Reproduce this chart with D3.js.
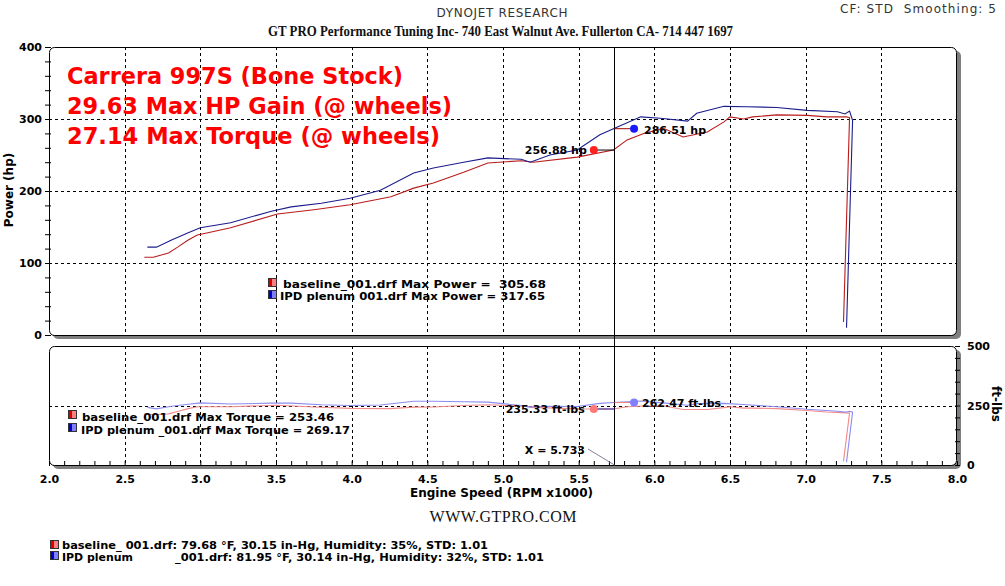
<!DOCTYPE html>
<html>
<head>
<meta charset="utf-8">
<title>Dyno</title>
<script src="https://d3js.org/d3.v7.min.js"></script>
<style>
body { margin: 0; background: #fff; }
text { font-family: "DejaVu Sans", Verdana, sans-serif; }
.serif { font-family: "Liberation Serif", "Times New Roman", serif; }
</style>
</head>
<body>
<script>

// IPD plenum run (rpm x1000, hp, ft-lbs)
var ipdRpm = [2.65, 2.71, 2.81, 2.92, 3.00, 3.20, 3.47, 3.60, 3.80, 3.99, 4.19, 4.41, 4.54, 4.74, 4.90, 5.12, 5.18, 5.31, 5.49, 5.64, 5.73, 5.91, 6.04, 6.22, 6.28, 6.46, 6.61, 6.81, 7.01, 7.21, 7.26, 7.29, 7.31, 7.27];
var ipdHp = [122, 122, 132, 142, 149, 156, 172, 178, 183, 190, 201, 225, 232, 240, 246, 244, 240, 250, 257, 278, 286.5, 303, 301, 297, 308, 317.6, 317, 316, 312, 310, 307, 311, 298, 10];
var ipdTq = [242, 236, 247, 255, 261, 256, 260, 260, 253, 250, 252, 268, 268, 266, 264, 250, 243, 247, 246, 259, 262.5, 269, 262, 251, 258, 259, 253, 245, 234, 226, 222, 226, 222, 12];

// baseline run
var baseRpm = [2.63, 2.69, 2.79, 2.85, 2.92, 2.98, 3.05, 3.20, 3.51, 3.75, 3.99, 4.26, 4.41, 4.54, 4.74, 4.90, 5.12, 5.20, 5.49, 5.73, 5.82, 5.93, 6.06, 6.19, 6.35, 6.46, 6.50, 6.59, 6.65, 6.81, 7.01, 7.14, 7.27, 7.29, 7.25];
var baseHp = [108, 108, 114, 122, 132, 139, 142, 149, 168, 174, 181, 192, 204, 211, 226, 239, 242, 240, 247, 256.9, 271, 280, 287, 275, 282, 296, 303, 300, 303, 305.7, 305, 303, 303, 302, 18];
var baseTq = [216, 211, 215, 225, 237, 245, 245, 245, 251, 244, 238, 237, 243, 244, 250, 253, 248, 242, 236, 235.3, 245, 248, 249, 233, 233, 241, 245, 239, 239, 237, 229, 223, 219, 218, 15];

var cursorRpm = 5.733;
var hpMarks = [256.88, 286.51];
var tqMarks = [235.33, 262.47];

var hpTicks = [0, 100, 200, 300, 400];
var tqTicks = [0, 250, 500];
var rpmTicks = [2.0, 2.5, 3.0, 3.5, 4.0, 4.5, 5.0, 5.5, 6.0, 6.5, 7.0, 7.5, 8.0];

var W = 1005, H = 586;
var svg = d3.select("body").append("svg")
	.attr("width", W)
	.attr("height", H);

var x = d3.scaleLinear().domain([2, 8]).range([49, 957]);
var yHp = d3.scaleLinear().domain([0, 400]).range([335, 47]);
var yTq = d3.scaleLinear().domain([0, 500]).range([465, 346]);

// header
svg.append("text").attr("x", 502).attr("y", 17).attr("text-anchor", "middle")
	.attr("font-size", 12).attr("fill", "#333").attr("textLength", 131)
	.text("DYNOJET RESEARCH");
svg.append("text").attr("x", 840).attr("y", 13)
	.attr("font-size", 12).attr("fill", "#333").attr("textLength", 156)
	.attr("xml:space", "preserve")
	.text("CF: STD  Smoothing: 5");
svg.append("text").attr("class", "serif").attr("x", 268).attr("y", 36)
	.attr("font-size", 14).attr("font-weight", "bold").attr("fill", "#111")
	.attr("textLength", 465).attr("lengthAdjust", "spacingAndGlyphs")
	.text("GT PRO Performance Tuning Inc- 740 East Walnut Ave. Fullerton CA- 714 447 1697");

// panels
function panel(y0, y1) {
	svg.append("rect").attr("x", 53).attr("y", y0 + 4).attr("width", 908).attr("height", y1 - y0)
		.attr("rx", 5).attr("fill", "#7f7f7f");
	svg.append("rect").attr("x", 49).attr("y", y0).attr("width", 908).attr("height", y1 - y0)
		.attr("rx", 5).attr("fill", "#fff");
}
panel(47, 335);
panel(346, 465);

// grid
var grid = svg.append("g").attr("stroke", "#000").attr("stroke-dasharray", "3,3").attr("stroke-width", 1);
rpmTicks.slice(1, -1).forEach(function(r) {
	var px = Math.round(x(r)) + 0.5;
	grid.append("line").attr("x1", px).attr("x2", px).attr("y1", 47).attr("y2", 335);
	grid.append("line").attr("x1", px).attr("x2", px).attr("y1", 346).attr("y2", 465);
});
[100, 200, 300].forEach(function(v) {
	var py = Math.round(yHp(v)) + 0.5;
	grid.append("line").attr("x1", 49).attr("x2", 957).attr("y1", py).attr("y2", py);
});
grid.append("line").attr("x1", 49).attr("x2", 957)
	.attr("y1", Math.round(yTq(250)) + 0.5).attr("y2", Math.round(yTq(250)) + 0.5);

// curves
function curve(rpm, vals, yS, color) {
	var pts = rpm.map(function(r, i) { return [r, vals[i]]; });
	svg.append("path").datum(pts)
		.attr("fill", "none").attr("stroke", color).attr("stroke-width", 1.1)
		.attr("d", d3.line().x(function(d) { return x(d[0]); }).y(function(d) { return yS(d[1]); }));
}
curve(baseRpm, baseTq, yTq, "#f28a8a");
curve(ipdRpm, ipdTq, yTq, "#8c8cf0");
curve(baseRpm, baseHp, yHp, "#b81c1c");
curve(ipdRpm, ipdHp, yHp, "#1c1c8c");

// panel borders
svg.append("rect").attr("x", 49.5).attr("y", 47.5).attr("width", 907).attr("height", 288)
	.attr("rx", 5).attr("fill", "none").attr("stroke", "#000");
svg.append("rect").attr("x", 49.5).attr("y", 346.5).attr("width", 907).attr("height", 119)
	.attr("rx", 5).attr("fill", "none").attr("stroke", "#000");

// cursor
var cx = Math.round(x(cursorRpm)) + 0.5;
svg.append("line").attr("x1", cx).attr("x2", cx).attr("y1", 47).attr("y2", 465)
	.attr("stroke", "#000");

// axes
var axHp = svg.append("g").attr("transform", "translate(51,0)")
	.call(d3.axisLeft(yHp).tickValues(d3.range(0, 401, 20)).tickSize(6).tickPadding(3)
		.tickFormat(function(d) { return hpTicks.indexOf(d) >= 0 ? d : ""; }));
var axTq = svg.append("g").attr("transform", "translate(955,0)")
	.call(d3.axisRight(yTq).tickValues(d3.range(0, 501, 50)).tickSize(5).tickPadding(7)
		.tickFormat(function(d) { return tqTicks.indexOf(d) >= 0 ? d : ""; }));
var axRpm = svg.append("g").attr("transform", "translate(0,465)")
	.call(d3.axisBottom(x).tickValues(rpmTicks).tickSize(0).tickPadding(10)
		.tickFormat(d3.format(".1f")));
var axMinor = svg.append("g").attr("transform", "translate(0,466)")
	.call(d3.axisBottom(x).tickValues(d3.range(20, 81).map(function(d) { return d / 10; }))
		.tickSize(-5).tickFormat(""));
[axHp, axTq, axRpm, axMinor].forEach(function(g) {
	g.select(".domain").remove();
	g.selectAll("text").attr("font-family", "DejaVu Sans, Verdana, sans-serif")
		.attr("font-size", 11).attr("font-weight", "bold").attr("fill", "#000");
	g.selectAll("line").attr("stroke", "#000");
});

// axis titles
svg.append("text").attr("transform", "translate(13,190) rotate(-90)")
	.attr("text-anchor", "middle").attr("font-size", 12).attr("font-weight", "bold")
	.text("Power (hp)");
svg.append("text").attr("transform", "translate(992,404) rotate(90)")
	.attr("text-anchor", "middle").attr("font-size", 12).attr("font-weight", "bold")
	.text("ft-lbs");
svg.append("text").attr("x", 410).attr("y", 497)
	.attr("font-size", 12).attr("font-weight", "bold").attr("textLength", 183)
	.text("Engine Speed (RPM x1000)");

// title block
var titles = ["Carrera 997S (Bone Stock)", "29.63 Max HP Gain (@ wheels)", "27.14 Max Torque (@ wheels)"];
var titleW = [336, 385, 373];
titles.forEach(function(t, i) {
	svg.append("text").attr("x", 67).attr("y", 84 + i * 30)
		.attr("font-size", 23).attr("font-weight", "bold").attr("fill", "#ff0000")
		.attr("textLength", titleW[i]).attr("lengthAdjust", "spacingAndGlyphs")
		.text(t);
});

// legend boxes
function swatch(px, py, dark, light) {
	svg.append("rect").attr("x", px).attr("y", py).attr("width", 4).attr("height", 9).attr("fill", dark);
	svg.append("rect").attr("x", px + 4).attr("y", py).attr("width", 4).attr("height", 9).attr("fill", light);
	svg.append("rect").attr("x", px + 0.5).attr("y", py + 0.5).attr("width", 8).attr("height", 8)
		.attr("fill", "none").attr("stroke", "#333");
}
function label(px, py, str, w) {
	svg.append("text").attr("x", px).attr("y", py).attr("font-size", 11).attr("font-weight", "bold")
		.attr("xml:space", "preserve").attr("textLength", w).attr("lengthAdjust", "spacingAndGlyphs")
		.text(str);
}
swatch(268, 278, "#e00000", "#ff8080");
swatch(268, 290, "#0000d0", "#8080ff");
label(283, 288, "baseline_001.drf Max Power =  305.68", 263);
label(280, 300, "IPD plenum 001.drf Max Power = 317.65", 265);

swatch(68, 410, "#e00000", "#ff8080");
swatch(68, 423, "#0000d0", "#8080ff");
label(82, 421, "baseline_001.drf Max Torque = 253.46", 252);
label(81, 434, "IPD plenum _001.drf Max Torque = 269.17", 269);

// cursor annotations, power
var rx = x(cursorRpm - 0.133), bx = x(cursorRpm + 0.133);
svg.append("line").attr("x1", rx).attr("x2", cx).attr("y1", yHp(hpMarks[0])).attr("y2", yHp(hpMarks[0])).attr("stroke", "#000");
svg.append("line").attr("x1", cx).attr("x2", bx).attr("y1", yHp(hpMarks[1])).attr("y2", yHp(hpMarks[1])).attr("stroke", "#a00000");
svg.append("circle").attr("cx", rx).attr("cy", yHp(hpMarks[0])).attr("r", 4).attr("fill", "#ff2020");
svg.append("circle").attr("cx", bx).attr("cy", yHp(hpMarks[1])).attr("r", 4).attr("fill", "#1a1aff");
svg.append("text").attr("x", rx - 7).attr("y", yHp(hpMarks[0]) + 4).attr("text-anchor", "end")
	.attr("font-size", 11).attr("font-weight", "bold").text(hpMarks[0].toFixed(2) + " hp");
svg.append("text").attr("x", bx + 10).attr("y", yHp(hpMarks[1]) + 5)
	.attr("font-size", 11).attr("font-weight", "bold").text(hpMarks[1].toFixed(2) + " hp");

// cursor annotations, torque
svg.append("line").attr("x1", rx).attr("x2", cx).attr("y1", yTq(tqMarks[0])).attr("y2", yTq(tqMarks[0])).attr("stroke", "#2020a0");
svg.append("line").attr("x1", cx).attr("x2", bx).attr("y1", yTq(tqMarks[1])).attr("y2", yTq(tqMarks[1])).attr("stroke", "#f08080");
svg.append("circle").attr("cx", rx).attr("cy", yTq(tqMarks[0])).attr("r", 4).attr("fill", "#ff7878");
svg.append("circle").attr("cx", bx).attr("cy", yTq(tqMarks[1])).attr("r", 4).attr("fill", "#8080ff");
svg.append("text").attr("x", rx - 9).attr("y", yTq(tqMarks[0]) + 4).attr("text-anchor", "end")
	.attr("font-size", 11).attr("font-weight", "bold").text(tqMarks[0].toFixed(2) + " ft-lbs");
svg.append("text").attr("x", bx + 8).attr("y", yTq(tqMarks[1]) + 4)
	.attr("font-size", 11).attr("font-weight", "bold").text(tqMarks[1].toFixed(2) + " ft-lbs");

// X readout
svg.append("line").attr("x1", 588).attr("y1", 449).attr("x2", cx).attr("y2", 465)
	.attr("stroke", "#8080a0");
svg.append("text").attr("x", 585).attr("y", 454).attr("text-anchor", "end")
	.attr("font-size", 11).attr("font-weight", "bold").text("X = " + cursorRpm.toFixed(3));

// footer
svg.append("text").attr("class", "serif").attr("x", 503).attr("y", 522).attr("text-anchor", "middle")
	.attr("font-size", 16).attr("fill", "#111").attr("textLength", 147)
	.text("WWW.GTPRO.COM");
swatch(50, 540, "#e00000", "#ff8080");
swatch(50, 551, "#0000d0", "#8080ff");
label(62, 549, "baseline_ 001.drf: 79.68 °F, 30.15 in-Hg, Humidity: 35%, STD: 1.01", 426);
label(62, 561, "IPD plenum", 71);
label(175, 561, "_001.drf: 81.95 °F, 30.14 in-Hg, Humidity: 32%, STD: 1.01", 369);

</script>
</body>
</html>
